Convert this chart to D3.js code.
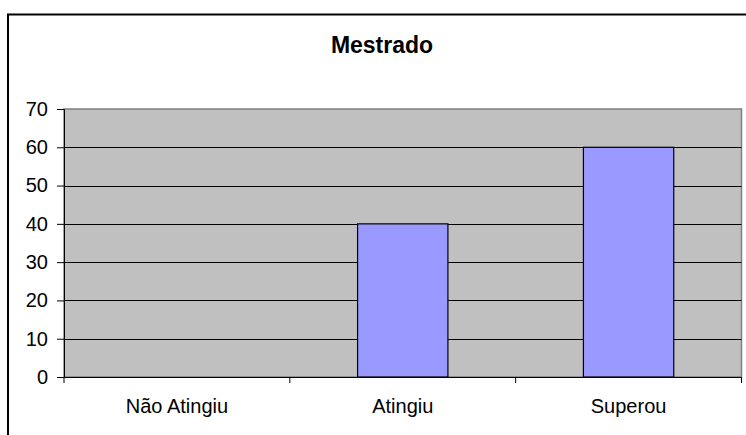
<!DOCTYPE html>
<html><head><meta charset="utf-8">
<script src="https://cdn.jsdelivr.net/npm/d3@7"></script>
<style>html,body{margin:0;padding:0;background:#fff;overflow:hidden}</style>
</head><body>
<script>
const categories = ["Não Atingiu", "Atingiu", "Superou"];
const values = [0, 40, 60];
const yTicks = [0, 10, 20, 30, 40, 50, 60, 70];
const title = "Mestrado";

const W = 746, H = 435;
const svg = d3.select("body").append("svg").attr("width", W).attr("height", H)
  .style("font-family", "Arial, 'Liberation Sans', sans-serif");

// outer chart border (extends beyond the viewport on right and bottom)
svg.append("rect").attr("x", 8).attr("y", 14.5).attr("width", 800).attr("height", 500)
  .attr("fill", "#fff").attr("stroke", "#000").attr("stroke-width", 2);

const m = {left: 64, top: 109, right: 741.5, bottom: 377};
const x = d3.scaleBand().domain(categories).range([m.left, m.right]).paddingInner(0.6).paddingOuter(0.3);
const xb = d3.scaleBand().domain(categories).range([m.left, m.right]);
const y = d3.scaleLinear().domain([0, 70]).range([m.bottom, m.top]);

// plot area
svg.append("rect").attr("x", m.left).attr("y", m.top).attr("width", m.right - m.left).attr("height", m.bottom - m.top)
  .attr("fill", "#C0C0C0").attr("stroke", "#808080").attr("stroke-width", 1.5);

// gridlines
svg.append("g").selectAll("line").data(yTicks.filter(d => d > 0 && d < 70)).join("line")
  .attr("x1", m.left).attr("x2", m.right)
  .attr("y1", d => Math.round(y(d)) + 0.5).attr("y2", d => Math.round(y(d)) + 0.5)
  .attr("stroke", "#000").attr("stroke-width", 1);

// bars
svg.append("g").selectAll("rect").data(values).join("rect")
  .attr("x", (d, i) => x(categories[i]))
  .attr("width", x.bandwidth())
  .attr("y", d => y(d))
  .attr("height", d => y(0) - y(d))
  .attr("fill", "#9999FF").attr("stroke", "#000").attr("stroke-width", 1.2);

// y axis
const ya = svg.append("g").attr("transform", `translate(${m.left},0)`)
  .call(d3.axisLeft(y).tickValues(yTicks).tickSize(7).tickPadding(9));
ya.select(".domain").attr("stroke", "#000");
ya.selectAll("line").attr("stroke", "#000");
ya.selectAll("text").attr("font-size", 20).attr("fill", "#000").attr("font-family", "Arial, 'Liberation Sans', sans-serif");

// x axis
const xa = svg.append("g").attr("transform", `translate(0,${m.bottom})`)
  .call(d3.axisBottom(xb).tickSize(0).tickPadding(22));
xa.select(".domain").attr("stroke", "#000");
xa.selectAll("text").attr("font-size", 20).attr("fill", "#000").attr("font-family", "Arial, 'Liberation Sans', sans-serif");
// boundary ticks
const bounds = categories.map(c => xb(c)).concat([m.right]);
xa.append("g").selectAll("line").data(bounds).join("line")
  .attr("x1", d => d).attr("x2", d => d).attr("y1", 0).attr("y2", 6).attr("stroke", "#000");

// title
svg.append("text").attr("x", 382).attr("y", 53).attr("text-anchor", "middle")
  .attr("font-size", 23).attr("font-weight", "bold").attr("fill", "#000").text(title);
</script>
</body></html>
